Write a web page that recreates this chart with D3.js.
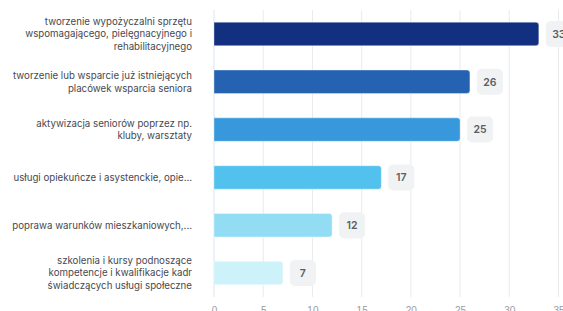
<!DOCTYPE html>
<html>
<head>
<meta charset="utf-8">
<script src="https://cdn.jsdelivr.net/npm/d3@7"></script>
<style>
  body { margin: 0; background: #fff; }
  svg { display: block; font-family: Inter, "Noto Sans", sans-serif; }
</style>
</head>
<body>
<div id="chart"></div>
<script>
// data
var categories = [
    ["tworzenie wypożyczalni sprzętu", "wspomagającego, pielęgnacyjnego i", "rehabilitacyjnego"],
    ["tworzenie lub wsparcie już istniejących", "placówek wsparcia seniora"],
    ["aktywizacja seniorów poprzez np.", "kluby, warsztaty"],
    ["usługi opiekuńcze i asystenckie, opie..."],
    ["poprawa warunków mieszkaniowych,..."],
    ["szkolenia i kursy podnoszące", "kompetencje i kwalifikacje kadr", "świadczących usługi społeczne"]
];
var values = [33, 26, 25, 17, 12, 7];
var barColors = ["#132f80", "#2563b2", "#3898dc", "#52c1ed", "#93ddf4", "#cef2fa"];
var xTicks = [0, 5, 10, 15, 20, 25, 30, 35];

var w = 563;
var h = 311;

//plot edges so it lines up with the picture (window.top is taken, so own names)
var plotLeft = 214, plotRight = 558.5, plotTop = 10, plotBottom = 297;

var svg = d3.select("#chart")
            .append("svg")
            .attr("width", w)
            .attr("height", h);

var xscale = d3.scaleLinear()
                .domain([0, 35])
                .range([plotLeft, plotRight]);

var yscale = d3.scaleBand()
                .domain(d3.range(values.length))
                .range([plotTop, plotBottom])
                .paddingInner(0.51)
                .paddingOuter(0.255);

//vertical grid lines
svg.append("g")
    .selectAll("line")
    .data(xTicks)
    .enter()
    .append("line")
    .attr("x1", d => xscale(d))
    .attr("x2", d => xscale(d))
    .attr("y1", plotTop)
    .attr("y2", plotBottom)
    .attr("stroke", d => d == 0 ? "#dbe3f1" : "#e9eaee")
    .attr("stroke-width", 1);

//x axis labels (cut off by the bottom edge like in the picture)
var xaxis = d3.axisBottom(xscale)
            .tickValues(xTicks)
            .tickSize(0)
            .tickPadding(0);

var gx = svg.append("g")
    .attr("transform", "translate(0," + 307 + ")")
    .call(xaxis);
gx.select(".domain").remove();
gx.selectAll("text")
    .attr("dy", "0.71em")
    .attr("fill", "#9a9ca3")
    .attr("font-family", null)
    .style("font-size", "10px");

//bars, rounded on the right end only
svg.append("g")
    .selectAll("path")
    .data(values)
    .enter()
    .append("path")
    .attr("d", function(d, i)
    {
        var x0 = xscale(0), x1 = xscale(d), y0 = yscale(i), bh = yscale.bandwidth(), r = 3;
        return "M" + x0 + "," + y0 + "H" + (x1 - r) + "Q" + x1 + "," + y0 + " " + x1 + "," + (y0 + r) +
               "V" + (y0 + bh - r) + "Q" + x1 + "," + (y0 + bh) + " " + (x1 - r) + "," + (y0 + bh) +
               "H" + x0 + "Z";
    })
    .attr("fill", (d, i) => barColors[i])
    .attr("stroke", "rgba(255,255,255,0.35)")
    .attr("stroke-width", 1);

//value badges
var badge = svg.append("g")
    .selectAll("g")
    .data(values)
    .enter()
    .append("g")
    .attr("transform", (d, i) => "translate(" + (xscale(d) + 7) + "," + (yscale(i) + yscale.bandwidth() / 2) + ")");

badge.append("rect")
    .attr("x", 0)
    .attr("y", -13)
    .attr("width", 26)
    .attr("height", 26)
    .attr("rx", 5)
    .attr("fill", "#f1f2f3");

badge.append("text")
    .attr("x", 13)
    .attr("dy", "0.36em")
    .attr("text-anchor", "middle")
    .attr("fill", "#5b5d63")
    .style("font-size", "10.5px")
    .style("font-weight", "600")
    .text(d => d);

//category labels, several lines centred on the bar
var lineH = 12.8;
var labels = svg.append("g")
    .selectAll("text")
    .data(categories)
    .enter()
    .append("text")
    .attr("text-anchor", "end")
    .attr("fill", "#47494f")
    .style("font-size", "9.7px");

labels.each(function(lines, i)
{
    var cy = yscale(i) + yscale.bandwidth() / 2;
    var startY = cy - (lines.length - 1) * lineH / 2;
    d3.select(this)
        .selectAll("tspan")
        .data(lines)
        .enter()
        .append("tspan")
        .attr("x", 192)
        .attr("y", (d, j) => startY + j * lineH)
        .attr("dy", "0.35em")
        .text(d => d);
});
</script>
</body>
</html>
